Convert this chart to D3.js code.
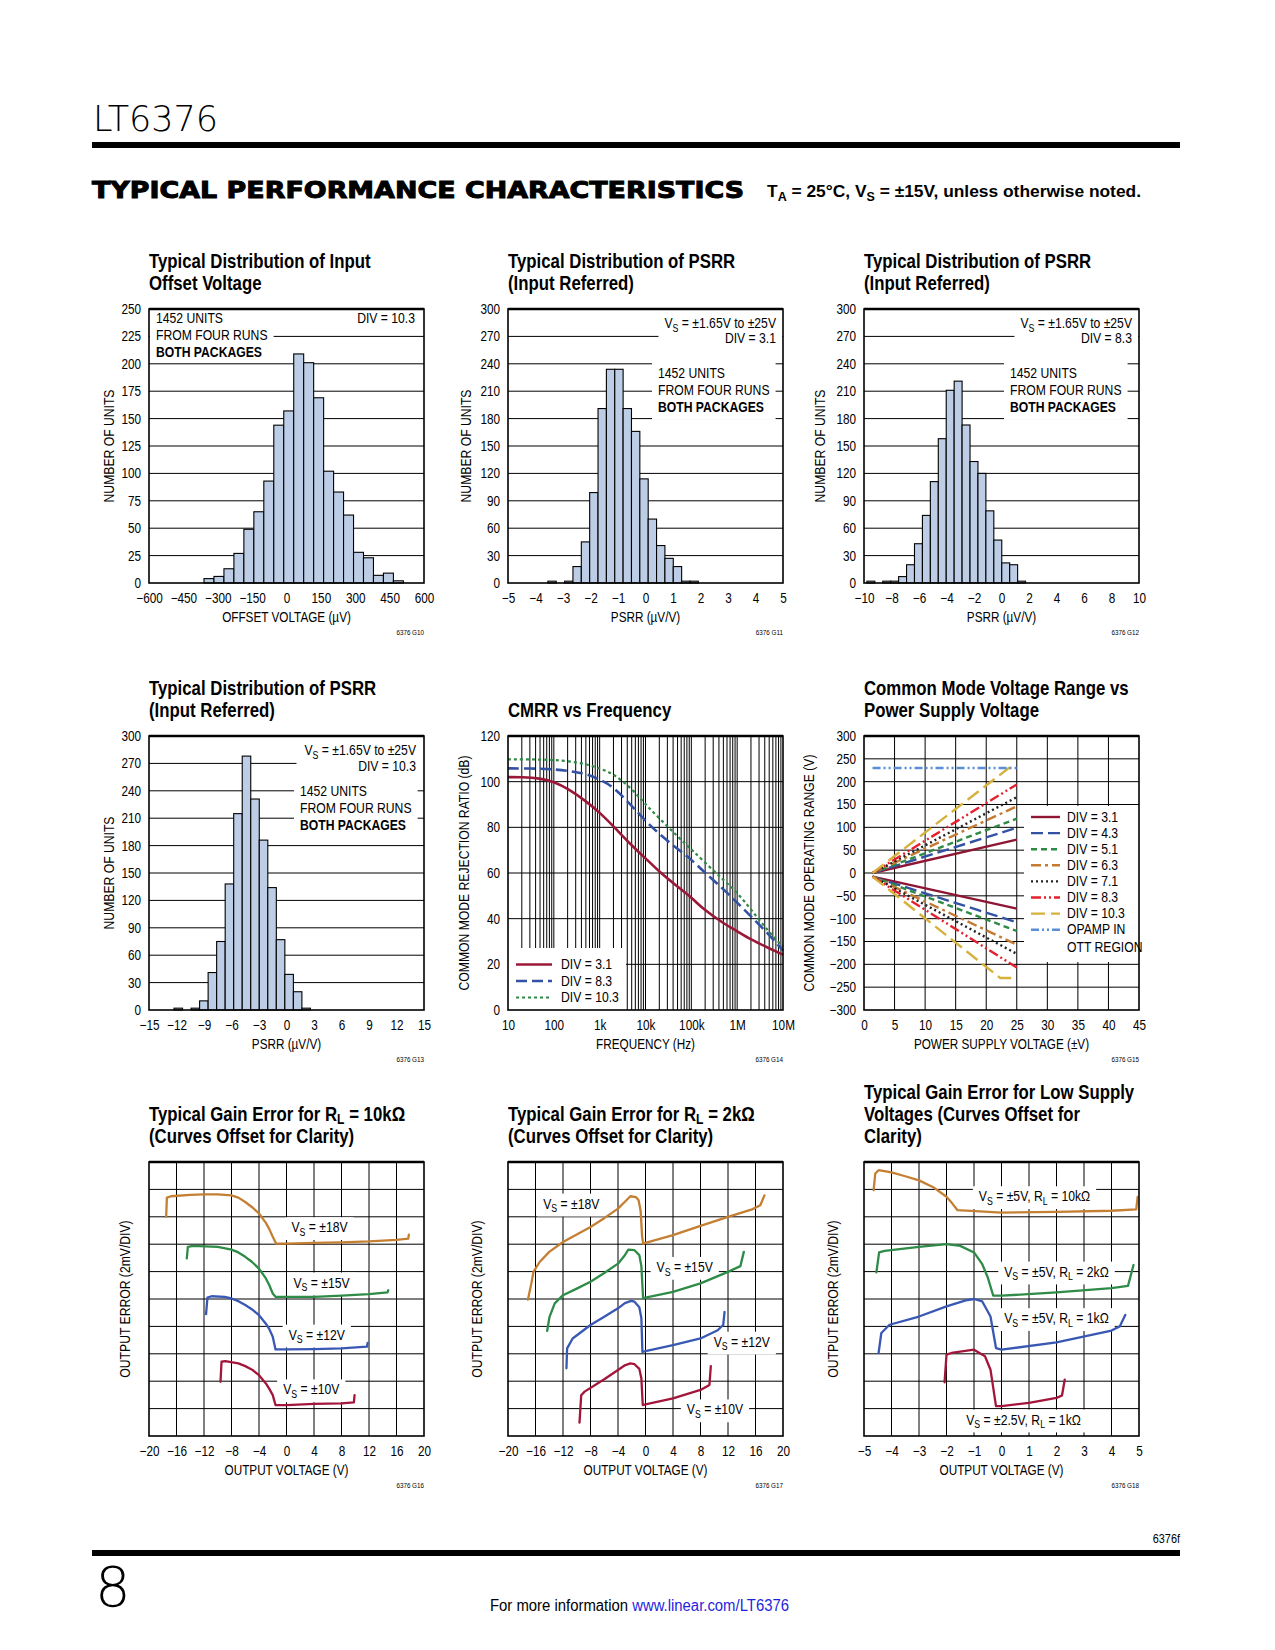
<!DOCTYPE html>
<html>
<head>
<meta charset="utf-8">
<script src="https://cdnjs.cloudflare.com/ajax/libs/d3/7.8.5/d3.min.js"></script>
<style>
body { margin: 0; background: #fff; }
svg text { font-family: "Liberation Sans", Arial, "DejaVu Sans", sans-serif; fill: #000; }
.ttl { font-size: 20px; font-weight: bold; }
.lab { font-size: 14px; }
.tick text { font-size: 14px; }
.code { font-size: 7.5px; }
</style>
</head>
<body>
<svg id="page" width="1275" height="1650"></svg>
<script>
// ---- data ----
// G10 offset voltage histogram (uV bins)
var g10Start = -360, g10Bin = 43.5;
var g10Counts = [4, 6, 13, 27, 49, 65, 93, 144, 157, 209, 201, 169, 102, 83, 62, 28, 23, 7, 9, 2];
var g10Ticks = [-600, -450, -300, -150, 0, 150, 300, 450, 600];

// G11 PSRR histogram, DIV = 3.1
var g11Start = -3.55, g11Bin = 0.304;
var g11Counts = [2, 0, 2, 18, 45, 99, 191, 234, 234, 191, 166, 114, 70, 41, 27, 18, 2, 2];
var g11Ticks = [-5, -4, -3, -2, -1, 0, 1, 2, 3, 4, 5];

// G12 PSRR histogram, DIV = 8.3
var g12Start = -9.79, g12Bin = 0.577;
var g12Counts = [2, 0, 2, 2, 7, 20, 43, 74, 111, 158, 211, 221, 173, 133, 120, 79, 47, 22, 20, 2];
var g12Ticks = [-10, -8, -6, -4, -2, 0, 2, 4, 6, 8, 10];

// G13 PSRR histogram, DIV = 10.3
var g13Start = -12.27, g13Bin = 0.93;
var g13Counts = [2, 0, 2, 10, 41, 75, 138, 215, 278, 231, 186, 134, 77, 39, 20, 2];
var g13Ticks = [-15, -12, -9, -6, -3, 0, 3, 6, 9, 12, 15];

// G14 CMRR vs frequency
var cmrrFreq = [10, 20, 50, 100, 200, 500, 1e3, 2e3, 5e3, 1e4, 2e4, 5e4, 1e5, 2e5, 5e5, 1e6, 2e6, 5e6, 1e7];
var cmrrDiv31  = [102, 102, 101.5, 100, 97, 91.5, 86.5, 80.5, 72, 66.5, 60.5, 54, 49.3, 43.5, 38, 34.5, 30.8, 27, 24.2];
var cmrrDiv83  = [105.8, 105.8, 105.7, 105.4, 104.8, 103.5, 101, 97.8, 89.4, 82.8, 77, 70.5, 66, 60, 53, 47, 41, 33, 26];
var cmrrDiv103 = [109.8, 109.8, 109.7, 109.5, 109, 107.8, 105.8, 103.5, 97, 90, 84, 76, 70.4, 64.5, 57, 51.5, 44, 34, 27.8];
var cmrrNames = ['DIV = 3.1', 'DIV = 8.3', 'DIV = 10.3'];
var cmrrTickLabels = {10: '10', 100: '100', 1000: '1k', 10000: '10k', 100000: '100k', 1000000: '1M', 10000000: '10M'};

// G15 common mode range vs supply (upper and lower limit per DIV)
var cmNames = ['DIV = 3.1', 'DIV = 4.3', 'DIV = 5.1', 'DIV = 6.3', 'DIV = 7.1', 'DIV = 8.3', 'DIV = 10.3'];
var cmUpper = [
  [[1.4, 0], [25, 73]],
  [[1.4, 0], [25, 99]],
  [[1.4, 0], [25, 119]],
  [[1.4, 0], [25, 146]],
  [[1.4, 0], [25, 166]],
  [[1.4, 0], [25, 194]],
  [[1.4, 0], [23.7, 230], [25, 230]]
];
var cmLower = [
  [[1.4, -8], [25, -78]],
  [[1.4, -8], [25, -108]],
  [[1.4, -8], [25, -127]],
  [[1.4, -8], [25, -157]],
  [[1.4, -8], [25, -177]],
  [[1.4, -8], [25, -207]],
  [[1.4, -8], [22.3, -230], [25, -230]]
];
var cmOtt = [[1.4, 230], [25, 230]];

// G16 gain error RL = 10k (divisions, offset curves)
var g16Vs18 = [[-17.5,8.0],[-17.4,8.7],[-16.8,8.75],[-14,8.8],[-12,8.82],[-10,8.82],[-8,8.78],[-7,8.7],[-6,8.54],[-5,8.35],[-4,8.12],[-3,7.78],[-2.5,7.55],[-2,7.27],[-1.5,7.02],[0,7.02],[4,7.05],[8,7.07],[12,7.1],[16,7.16],[17.7,7.2],[17.8,7.35]];
var g16Vs15 = [[-14.5,6.48],[-14.35,6.9],[-13.6,6.94],[-10,6.9],[-8,6.8],[-7,6.7],[-6,6.54],[-5,6.35],[-4,6.11],[-3,5.75],[-2.5,5.5],[-2,5.2],[-1.6,5.08],[0,5.08],[4,5.08],[8,5.12],[12,5.18],[14.7,5.24],[14.8,5.32]];
var g16Vs12 = [[-11.7,4.45],[-11.5,5.05],[-10.9,5.1],[-9,5.08],[-8,5.02],[-7,4.92],[-6,4.78],[-5,4.62],[-4,4.41],[-3,4.1],[-2.5,3.9],[-2,3.62],[-1.6,3.16],[0,3.16],[4,3.17],[8,3.2],[11.7,3.26],[11.8,3.4]];
var g16Vs10 = [[-9.6,1.98],[-9.45,2.71],[-8.9,2.73],[-7,2.65],[-6,2.55],[-5,2.42],[-4,2.22],[-3,1.92],[-2.5,1.72],[-2,1.49],[-1.6,1.13],[0,1.13],[4,1.17],[8,1.19],[9.8,1.23],[9.9,1.49]];
var g16Labels = ['V{S} = ±18V', 'V{S} = ±15V', 'V{S} = ±12V', 'V{S} = ±10V'];
var g16LabelAt = [[4.8, 7.62], [5.1, 5.6], [4.4, 3.7], [3.6, 1.7]];

// G17 gain error RL = 2k
var g17Vs18 = [[-17.1,4.98],[-16.6,5.57],[-16.3,5.99],[-15.4,6.35],[-14,6.72],[-12,7.08],[-10,7.35],[-8,7.63],[-6,7.95],[-4,8.3],[-3,8.55],[-2.2,8.75],[-1.4,8.72],[-1.0,8.6],[-0.7,8.2],[-0.5,7.3],[-0.35,7.02],[0,7.05],[4,7.33],[8,7.67],[12,8.0],[15.5,8.27],[16.7,8.42],[17.3,8.78]];
var g17Vs15 = [[-14.3,3.84],[-13.96,4.35],[-13.2,4.84],[-12,5.14],[-10,5.38],[-8,5.63],[-6,5.95],[-4,6.29],[-3,6.6],[-2.5,6.8],[-1.6,6.78],[-0.9,6.6],[-0.6,6.2],[-0.45,5.5],[-0.35,5.02],[0,5.05],[4,5.26],[8,5.57],[12,5.99],[13.8,6.2],[14.3,6.72]];
var g17Vs12 = [[-11.5,2.47],[-11.4,3.2],[-10.6,3.56],[-8,4.05],[-6,4.35],[-4,4.66],[-3,4.85],[-2.1,4.93],[-1.6,4.9],[-0.9,4.7],[-0.6,4.3],[-0.45,3.07],[0,3.1],[4,3.32],[8,3.56],[10.5,3.86],[11.3,4.05],[11.5,4.53]];
var g17Vs10 = [[-9.6,0.49],[-9.35,1.49],[-8.86,1.62],[-6,2.07],[-4,2.41],[-3,2.58],[-2.2,2.65],[-1.6,2.62],[-0.9,2.45],[-0.6,2.1],[-0.4,1.13],[0,1.15],[4,1.37],[8,1.68],[9.3,1.86],[9.5,2.55]];
var g17Labels = ['V{S} = ±18V', 'V{S} = ±15V', 'V{S} = ±12V', 'V{S} = ±10V'];
var g17LabelAt = [[-10.8, 8.48], [5.7, 6.17], [14, 3.44], [10.1, 0.97]];

// G18 gain error at low supply voltages
var g18Vs5k10 = [[-4.65,8.97],[-4.59,9.58],[-4.47,9.7],[-4,9.62],[-3.5,9.48],[-3,9.33],[-2.5,9.09],[-2,8.73],[-1.8,8.5],[-1.6,8.24],[0,8.15],[2,8.18],[4,8.22],[4.9,8.27],[4.95,8.73]];
var g18Vs5k2 = [[-4.55,5.97],[-4.45,6.7],[-4.25,6.76],[-3,6.9],[-2,7.0],[-1.5,6.94],[-1,6.7],[-0.7,6.27],[-0.5,5.79],[-0.3,5.12],[0,5.12],[2,5.24],[4,5.4],[4.6,5.48],[4.8,6.24]];
var g18Vs5k1 = [[-4.47,3.03],[-4.37,3.76],[-4.07,4.06],[-3,4.36],[-2,4.73],[-1.3,4.95],[-1,5.0],[-0.7,4.91],[-0.4,4.36],[-0.2,3.21],[0,3.15],[2,3.42],[4,3.85],[4.3,4.0],[4.5,4.42]];
var g18Vs25k1 = [[-2.07,1.96],[-2.0,2.97],[-1.82,3.03],[-1,3.15],[-0.6,2.91],[-0.4,2.42],[-0.2,1.09],[0,1.09],[1,1.21],[2,1.39],[2.2,1.48],[2.3,2.06]];
var g18Labels = ['V{S} = ±5V, R{L} = 10kΩ', 'V{S} = ±5V, R{L} = 2kΩ', 'V{S} = ±5V, R{L} = 1kΩ', 'V{S} = ±2.5V, R{L} = 1kΩ'];
var g18LabelAt = [[1.2, 8.75], [2.0, 6.0], [2.0, 4.3], [0.8, 0.6]];

var gainColors = ['#c47f33', '#2f8b48', '#3858b3', '#a3163b'];
var cmColors = ['#8e1533', '#3352a4', '#2f8a45', '#c37a33', '#222222', '#e5202e', '#d6b23c', '#5b8ed6'];
var cmDash = ['', '12,5', '6,4', '10,4,3,4', '2,3', '10,3,2,3,2,3', '14,6', '8,3,2,3,2,3'];

// ---- layout ----
var svg = d3.select('#page');
var PW = 275, PH = 274;
var COLS = [149, 508, 864], ROWS = [309, 736, 1162];
var SX = 0.84;   // squeeze to look like a condensed face

// text with {subscript} parts
function rich(t, str, size, drop) {
  var parts = str.split(/(\{[^}]*\})/).filter(function(p){ return p.length; });
  var down = 0;
  parts.forEach(function(p){
    var ts = t.append('tspan');
    if (p.charAt(0) === '{') {
      down = size * (drop || 0.25);
      ts.attr('dy', down).attr('font-size', (size * 0.72) + 'px').text(p.slice(1, -1));
    } else {
      if (down) { ts.attr('dy', -down); down = 0; }
      ts.text(p);
    }
  });
  return t;
}

// condensed text anchored at (x, y)
function stext(parent, x, y, anchor, extra) {
  return parent.append('text')
    .attr('transform', 'translate(' + x + ',' + y + ')' + (extra || '') + ' scale(' + SX + ',1)')
    .attr('text-anchor', anchor || 'start');
}

// text block on a white patch so the grid does not run through it
function boxed(g, lines, x, y0, lh, anchor, size, padX, padY) {
  var grp = g.append('g').attr('transform', 'translate(' + x + ',0) scale(' + SX + ',1)');
  lines.forEach(function(s, i){
    var bold = s.charAt(0) === '*';
    var t = grp.append('text').attr('x', 0).attr('y', y0 + i * lh)
      .attr('text-anchor', anchor)
      .style('font-size', size + 'px').style('font-weight', bold ? 'bold' : 'normal');
    rich(t, bold ? s.slice(1) : s, size);
  });
  var bb = grp.node().getBBox();
  var px = padX / SX;
  grp.insert('rect', ':first-child')
    .attr('x', bb.x - px).attr('y', bb.y - padY)
    .attr('width', bb.width + 2 * px).attr('height', bb.height + 2 * padY)
    .attr('fill', '#fff');
  return grp;
}

function panel(col, row, titleLines, xLabel, yLabel, yLabelDx, code) {
  var g = svg.append('g').attr('transform', 'translate(' + COLS[col] + ',' + ROWS[row] + ')');
  titleLines.forEach(function(line, i){
    var t = stext(g, 0, -19 - 22 * (titleLines.length - 1 - i), 'start').attr('class', 'ttl');
    rich(t, line, 20, 0.17);
  });
  stext(g, PW / 2, PH + 39, 'middle').attr('class', 'lab').text(xLabel);
  stext(g, yLabelDx, PH / 2, 'middle', ' rotate(-90)').attr('class', 'lab').style('font-size', '14.5px').text(yLabel);
  stext(g, PW, PH + 52, 'end').attr('class', 'code').text(code);
  return g;
}

function frame(g) {
  g.append('rect').attr('width', PW).attr('height', PH)
    .attr('fill', 'none').attr('stroke', '#000').attr('stroke-width', 1.6);
  g.append('line').attr('x1', 0).attr('x2', PW).attr('y1', 0).attr('y2', 0)
    .attr('stroke', '#000').attr('stroke-width', 2.6);
}

function axisBottom(g, scale, ticks, fmt) {
  var a = g.append('g').attr('transform', 'translate(0,' + PH + ')')
    .call(d3.axisBottom(scale).tickValues(ticks).tickSize(0).tickPadding(10).tickFormat(fmt || d3.format('')));
  a.select('.domain').remove();
  a.selectAll('text').attr('transform', 'scale(' + SX + ',1)');
  return a;
}
function axisLeft(g, scale, ticks, fmt) {
  var a = g.append('g')
    .call(d3.axisLeft(scale).tickValues(ticks).tickSize(0).tickPadding(8).tickFormat(fmt || d3.format('')));
  a.select('.domain').remove();
  a.selectAll('text').attr('x', -8 / SX).attr('transform', 'scale(' + SX + ',1)');
  return a;
}

function hgrid(g, y, vals, x0, x1) {
  g.append('g').selectAll('line').data(vals).join('line')
    .attr('x1', x0 === undefined ? 0 : x0).attr('x2', x1 === undefined ? PW : x1)
    .attr('y1', function(d){ return y(d); }).attr('y2', function(d){ return y(d); })
    .attr('stroke', '#000').attr('stroke-width', 1);
}
function vgrid(g, x, vals) {
  g.append('g').selectAll('line').data(vals).join('line')
    .attr('y1', 0).attr('y2', PH)
    .attr('x1', function(d){ return x(d); }).attr('x2', function(d){ return x(d); })
    .attr('stroke', '#000').attr('stroke-width', 1);
}

function histogram(g, xDom, xTicks, yMax, yStep, start, bin, counts) {
  var x = d3.scaleLinear().domain(xDom).range([0, PW]);
  var y = d3.scaleLinear().domain([0, yMax]).range([PH, 0]);
  var yTicks = d3.range(0, yMax + yStep / 2, yStep);
  hgrid(g, y, yTicks.slice(1, -1));
  var bars = counts.map(function(c, i){ return {x0: start + i * bin, x1: start + (i + 1) * bin, n: c}; })
    .filter(function(d){ return d.n > 0; });
  g.append('g').selectAll('rect').data(bars).join('rect')
    .attr('x', function(d){ return x(d.x0); })
    .attr('width', function(d){ return x(d.x1) - x(d.x0); })
    .attr('y', function(d){ return y(d.n); })
    .attr('height', function(d){ return y(0) - y(d.n); })
    .attr('fill', '#bccde5').attr('stroke', '#000').attr('stroke-width', 1.1);
  axisBottom(g, x, xTicks);
  axisLeft(g, y, yTicks);
  return {x: x, y: y};
}

// ---- row 1 ----
var p1 = panel(0, 0, ['Typical Distribution of Input', 'Offset Voltage'], 'OFFSET VOLTAGE (µV)', 'NUMBER OF UNITS', -35, '6376 G10');
histogram(p1, [-600, 600], g10Ticks, 250, 25, g10Start, g10Bin, g10Counts);
boxed(p1, ['1452 UNITS', 'FROM FOUR RUNS', '*BOTH PACKAGES'], 7, 14.5, 17, 'start', 14.5, 6, 1);
boxed(p1, ['DIV = 10.3'], 266, 14.5, 17, 'end', 14.5, 4, 1);
frame(p1);

var p2 = panel(1, 0, ['Typical Distribution of PSRR', '(Input Referred)'], 'PSRR (µV/V)', 'NUMBER OF UNITS', -37, '6376 G11');
histogram(p2, [-5, 5], g11Ticks, 300, 30, g11Start, g11Bin, g11Counts);
boxed(p2, ['V{S} = ±1.65V to ±25V', 'DIV = 3.1'], 268, 19, 15, 'end', 14.5, 6, 1);
boxed(p2, ['1452 UNITS', 'FROM FOUR RUNS', '*BOTH PACKAGES'], 150, 69.5, 17, 'start', 14.5, 6, 4);
frame(p2);

var p3 = panel(2, 0, ['Typical Distribution of PSRR', '(Input Referred)'], 'PSRR (µV/V)', 'NUMBER OF UNITS', -39, '6376 G12');
histogram(p3, [-10, 10], g12Ticks, 300, 30, g12Start, g12Bin, g12Counts);
boxed(p3, ['V{S} = ±1.65V to ±25V', 'DIV = 8.3'], 268, 19, 15, 'end', 14.5, 6, 1);
boxed(p3, ['1452 UNITS', 'FROM FOUR RUNS', '*BOTH PACKAGES'], 146, 69.5, 17, 'start', 14.5, 6, 4);
frame(p3);

// ---- row 2 ----
var p4 = panel(0, 1, ['Typical Distribution of PSRR', '(Input Referred)'], 'PSRR (µV/V)', 'NUMBER OF UNITS', -35, '6376 G13');
histogram(p4, [-15, 15], g13Ticks, 300, 30, g13Start, g13Bin, g13Counts);
boxed(p4, ['V{S} = ±1.65V to ±25V', 'DIV = 10.3'], 267, 19, 16, 'end', 14.5, 8, 1);
boxed(p4, ['1452 UNITS', 'FROM FOUR RUNS', '*BOTH PACKAGES'], 151, 60, 17, 'start', 14.5, 6, 4);
frame(p4);

// CMRR vs frequency
(function(){
  var g = panel(1, 1, ['CMRR vs Frequency'], 'FREQUENCY (Hz)', 'COMMON MODE REJECTION RATIO (dB)', -39, '6376 G14');
  var x = d3.scaleLog().domain([10, 1e7]).range([0, PW]);
  var y = d3.scaleLinear().domain([0, 120]).range([PH, 0]);
  vgrid(g, x, x.ticks().filter(function(d){ return d > 10 && d < 1e7; }));
  hgrid(g, y, [40, 60, 80, 100]);
  // legend patch
  g.append('rect').attr('x', 0).attr('y', 212).attr('width', 118).attr('height', PH - 212).attr('fill', '#fff');
  hgrid(g, y, [20], 118, PW);
  var line = d3.line().x(function(d){ return x(d[0]); }).y(function(d){ return y(d[1]); }).curve(d3.curveBasis);
  var sets = [cmrrDiv31, cmrrDiv83, cmrrDiv103];
  var cols = ['#9b1838', '#3352a4', '#2f8a45'];
  var dash = ['', '11,5', '3,3'];
  var wid = [2.6, 2.6, 2.2];
  sets.forEach(function(s, i){
    g.append('path').datum(cmrrFreq.map(function(f, j){ return [f, s[j]]; }))
      .attr('d', line).attr('fill', 'none').attr('stroke', cols[i])
      .attr('stroke-width', wid[i]).attr('stroke-dasharray', dash[i]);
  });
  cmrrNames.forEach(function(name, i){
    var yy = 233 + 16.5 * i;
    g.append('line').attr('x1', 8).attr('x2', 44).attr('y1', yy - 4.5).attr('y2', yy - 4.5)
      .attr('stroke', cols[i]).attr('stroke-width', wid[i]).attr('stroke-dasharray', dash[i]);
    stext(g, 53, yy, 'start').style('font-size', '14.5px').text(name);
  });
  axisBottom(g, x, [10, 100, 1e3, 1e4, 1e5, 1e6, 1e7], function(d){ return cmrrTickLabels[d]; });
  axisLeft(g, y, d3.range(0, 121, 20));
  frame(g);
})();

// common mode range vs supply
(function(){
  var g = panel(2, 1, ['Common Mode Voltage Range vs', 'Power Supply Voltage'], 'POWER SUPPLY VOLTAGE (±V)', 'COMMON MODE OPERATING RANGE (V)', -50, '6376 G15');
  var x = d3.scaleLinear().domain([0, 45]).range([0, PW]);
  var y = d3.scaleLinear().domain([-300, 300]).range([PH, 0]);
  vgrid(g, x, d3.range(5, 45, 5));
  hgrid(g, y, d3.range(-250, 300, 50));
  var line = d3.line().x(function(d){ return x(d[0]); }).y(function(d){ return y(d[1]); });
  [cmUpper, cmLower].forEach(function(set){
    set.forEach(function(pts, i){
      g.append('path').datum(pts).attr('d', line).attr('fill', 'none')
        .attr('stroke', cmColors[i]).attr('stroke-width', 2.4)
        .attr('stroke-dasharray', cmDash[i]);
    });
  });
  g.append('path').datum(cmOtt).attr('d', line).attr('fill', 'none')
    .attr('stroke', cmColors[7]).attr('stroke-width', 2.4).attr('stroke-dasharray', cmDash[7]);
  // legend
  g.append('rect').attr('x', 160).attr('y', 70).attr('width', PW - 160).attr('height', 156).attr('fill', '#fff');
  var names = cmNames.concat(['OPAMP IN']);
  names.forEach(function(name, i){
    var yy = 85.5 + 16.1 * i;
    g.append('line').attr('x1', 167).attr('x2', 196).attr('y1', yy - 4.5).attr('y2', yy - 4.5)
      .attr('stroke', cmColors[i]).attr('stroke-width', 2.4).attr('stroke-dasharray', cmDash[i]);
    stext(g, 203, yy, 'start').style('font-size', '14.5px').text(name);
  });
  stext(g, 203, 85.5 + 16.1 * 8 + 1.5, 'start').style('font-size', '14.5px').text('OTT REGION');
  axisBottom(g, x, d3.range(0, 46, 5));
  axisLeft(g, y, d3.range(-300, 301, 50));
  frame(g);
})();

// ---- row 3: gain error ----
function gainChart(col, title, code, yDx, xDom, xStep, series, labels, labelAt) {
  var g = panel(col, 2, title, 'OUTPUT VOLTAGE (V)', 'OUTPUT ERROR (2mV/DIV)', yDx, code);
  var x = d3.scaleLinear().domain(xDom).range([0, PW]);
  var y = d3.scaleLinear().domain([0, 10]).range([PH, 0]);
  vgrid(g, x, d3.range(xDom[0] + xStep, xDom[1] - xStep / 2, xStep));
  hgrid(g, y, d3.range(1, 10));
  labels.forEach(function(s, i){
    boxed(g, [s], x(labelAt[i][0]), y(labelAt[i][1]) + 5, 16, 'middle', 14.5, 6, 2);
  });
  var line = d3.line().x(function(d){ return x(d[0]); }).y(function(d){ return y(d[1]); });
  series.forEach(function(pts, i){
    g.append('path').datum(pts).attr('d', line).attr('fill', 'none')
      .attr('stroke', gainColors[i]).attr('stroke-width', 2.3)
      .attr('stroke-linejoin', 'round').attr('stroke-linecap', 'round');
  });
  axisBottom(g, x, d3.range(xDom[0], xDom[1] + xStep / 2, xStep));
  frame(g);
}
gainChart(0, ['Typical Gain Error for R{L} = 10kΩ', '(Curves Offset for Clarity)'], '6376 G16', -19,
  [-20, 20], 4, [g16Vs18, g16Vs15, g16Vs12, g16Vs10], g16Labels, g16LabelAt);
gainChart(1, ['Typical Gain Error for R{L} = 2kΩ', '(Curves Offset for Clarity)'], '6376 G17', -26,
  [-20, 20], 4, [g17Vs18, g17Vs15, g17Vs12, g17Vs10], g17Labels, g17LabelAt);
gainChart(2, ['Typical Gain Error for Low Supply', 'Voltages (Curves Offset for', 'Clarity)'], '6376 G18', -26,
  [-5, 5], 1, [g18Vs5k10, g18Vs5k2, g18Vs5k1, g18Vs25k1], g18Labels, g18LabelAt);

// ---- page furniture ----
svg.append('text').attr('x', 93).attr('y', 131)
  .style('font-family', '"DejaVu Sans", sans-serif').style('font-weight', 200).style('font-size', '35px')
  .text('LT6376');
svg.append('rect').attr('x', 92).attr('y', 142).attr('width', 1088).attr('height', 6).attr('fill', '#000');
svg.append('text').attr('x', 92).attr('y', 198)
  .attr('textLength', 652).attr('lengthAdjust', 'spacingAndGlyphs')
  .style('font-family', '"DejaVu Sans", sans-serif').style('font-weight', 'bold').style('font-size', '23px')
  .style('stroke', '#000').style('stroke-width', '1px')
  .text('TYPICAL PERFORMANCE CHARACTERISTICS');
var sub = svg.append('text').attr('x', 767).attr('y', 197)
  .attr('textLength', 374).attr('lengthAdjust', 'spacingAndGlyphs')
  .style('font-weight', 'bold').style('font-size', '16.5px');
rich(sub, 'T{A} = 25°C, V{S} = ±15V, unless otherwise noted.', 16.5);

stext(svg, 1180, 1543, 'end').style('font-size', '13px').text('6376f');
svg.append('rect').attr('x', 92).attr('y', 1550).attr('width', 1088).attr('height', 6).attr('fill', '#000');
svg.append('text').attr('x', 95).attr('y', 1606)
  .style('font-family', '"DejaVu Sans", sans-serif').style('font-weight', 200).style('font-size', '56px')
  .text('8');
var foot = svg.append('text').attr('x', 490).attr('y', 1611)
  .attr('textLength', 299).attr('lengthAdjust', 'spacingAndGlyphs').style('font-size', '16px');
foot.append('tspan').text('For more information ');
foot.append('tspan').style('fill', '#1f1fe0').text('www.linear.com/LT6376');
</script>
</body>
</html>
